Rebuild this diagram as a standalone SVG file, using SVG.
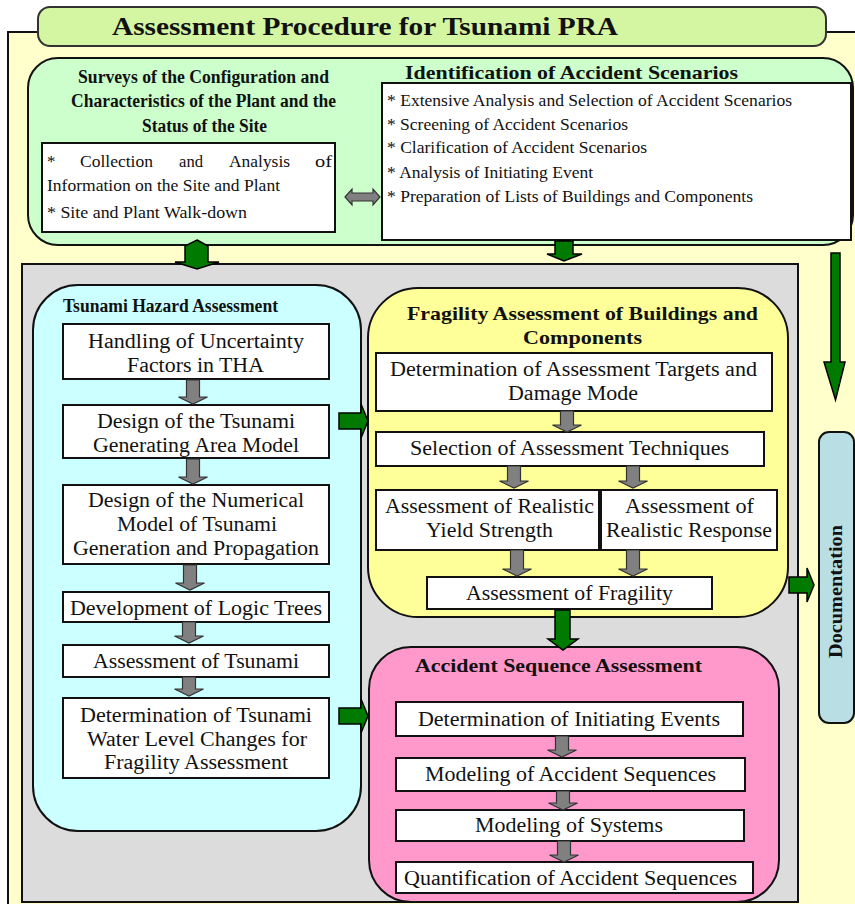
<svg xmlns="http://www.w3.org/2000/svg" width="855" height="904" viewBox="0 0 855 904">
<style>
text{font-family:"Liberation Serif","Times New Roman",serif;fill:#111;}
.t{font-size:26px;font-weight:bold;}
.h{font-size:18px;font-weight:bold;}
.h2{font-size:19px;font-weight:bold;}
.s{font-size:17px;}
.b{font-size:20px;}
.box{fill:#fff;stroke:#111;stroke-width:2;}
.ga{fill:#808080;stroke:#333;stroke-width:1.2;}
.gr{fill:#007a00;stroke:#000;stroke-width:1.5;}
</style>
<g id="background">
<rect x="8" y="32" width="900" height="900" fill="#ffffcc" stroke="#111" stroke-width="2"/>
</g>
<g id="title">
<rect x="38" y="7" width="788" height="39" rx="12" fill="#d4f5a2" stroke="#333" stroke-width="2"/>
<text class="t" x="112" y="35" textLength="506" lengthAdjust="spacingAndGlyphs">Assessment Procedure for Tsunami PRA</text>
</g>
<g id="top-panel">
<rect x="28" y="58" width="825" height="187" rx="30" fill="#ccffcc" stroke="#111" stroke-width="2"/>
</g>
<g id="surveys">
<text class="h" x="78" y="83" textLength="251" lengthAdjust="spacingAndGlyphs">Surveys of the Configuration and</text>
<text class="h" x="71" y="107" textLength="265" lengthAdjust="spacingAndGlyphs">Characteristics of the Plant and the</text>
<text class="h" x="142" y="132" textLength="125" lengthAdjust="spacingAndGlyphs">Status of the Site</text>
<rect class="box" x="42" y="143" width="293" height="89"/>
<text class="s" x="47" y="167">*</text>
<text class="s" x="80" y="167" textLength="73" lengthAdjust="spacingAndGlyphs">Collection</text>
<text class="s" x="179" y="167" textLength="24" lengthAdjust="spacingAndGlyphs">and</text>
<text class="s" x="229" y="167" textLength="61" lengthAdjust="spacingAndGlyphs">Analysis</text>
<text class="s" x="315" y="167" textLength="17" lengthAdjust="spacingAndGlyphs">of</text>
<text class="s" x="47" y="191" textLength="233" lengthAdjust="spacingAndGlyphs">Information on the Site and Plant</text>
<text class="s" x="47" y="218" textLength="200" lengthAdjust="spacingAndGlyphs">* Site and Plant Walk-down</text>
</g>
<g id="identification">
<text class="h2" x="405" y="79" textLength="333" lengthAdjust="spacingAndGlyphs">Identification of Accident Scenarios</text>
<rect class="box" x="382" y="83" width="469" height="157"/>
<text class="s" x="387" y="106" textLength="405" lengthAdjust="spacingAndGlyphs">* Extensive Analysis and Selection of Accident Scenarios</text>
<text class="s" x="387" y="130" textLength="241" lengthAdjust="spacingAndGlyphs">* Screening of Accident Scenarios</text>
<text class="s" x="387" y="153" textLength="260" lengthAdjust="spacingAndGlyphs">* Clarification of Accident Scenarios</text>
<text class="s" x="387" y="178" textLength="206" lengthAdjust="spacingAndGlyphs">* Analysis of Initiating Event</text>
<text class="s" x="387" y="202" textLength="366" lengthAdjust="spacingAndGlyphs">* Preparation of Lists of Buildings and Components</text>
</g>
<g id="main-panel">
<rect x="22" y="264" width="776" height="638" fill="#dcdcdc" stroke="#111" stroke-width="2"/>
</g>
<g id="tsunami-hazard">
<rect x="33" y="285" width="328" height="546" rx="45" fill="#ccffff" stroke="#111" stroke-width="2"/>
<text class="h" x="63" y="312" textLength="215" lengthAdjust="spacingAndGlyphs">Tsunami Hazard Assessment</text>
<rect class="box" x="63" y="324" width="266" height="55"/>
<text class="b" x="88" y="348" textLength="216" lengthAdjust="spacingAndGlyphs">Handling of Uncertainty</text>
<text class="b" x="127" y="372" textLength="137" lengthAdjust="spacingAndGlyphs">Factors in THA</text>
<rect class="box" x="63" y="405" width="266" height="53"/>
<text class="b" x="97" y="428" textLength="198" lengthAdjust="spacingAndGlyphs">Design of the Tsunami</text>
<text class="b" x="93" y="452" textLength="206" lengthAdjust="spacingAndGlyphs">Generating Area Model</text>
<rect class="box" x="63" y="485" width="266" height="79"/>
<text class="b" x="88" y="507" textLength="216" lengthAdjust="spacingAndGlyphs">Design of the Numerical</text>
<text class="b" x="117" y="531" textLength="160" lengthAdjust="spacingAndGlyphs">Model of Tsunami</text>
<text class="b" x="73" y="555" textLength="246" lengthAdjust="spacingAndGlyphs">Generation and Propagation</text>
<rect class="box" x="63" y="592" width="266" height="30"/>
<text class="b" x="70" y="615" textLength="252" lengthAdjust="spacingAndGlyphs">Development of Logic Trees</text>
<rect class="box" x="63" y="645" width="266" height="32"/>
<text class="b" x="93" y="668" textLength="206" lengthAdjust="spacingAndGlyphs">Assessment of Tsunami</text>
<rect class="box" x="63" y="698" width="266" height="80"/>
<text class="b" x="80" y="722" textLength="232" lengthAdjust="spacingAndGlyphs">Determination of Tsunami</text>
<text class="b" x="87" y="746" textLength="220" lengthAdjust="spacingAndGlyphs">Water Level Changes for</text>
<text class="b" x="104" y="769" textLength="184" lengthAdjust="spacingAndGlyphs">Fragility Assessment</text>
</g>
<g id="fragility">
<rect x="368" y="288" width="420" height="329" rx="50" fill="#ffff99" stroke="#111" stroke-width="2"/>
<text class="h2" x="407" y="320" textLength="351" lengthAdjust="spacingAndGlyphs">Fragility Assessment of Buildings and</text>
<text class="h2" x="523" y="344" textLength="119" lengthAdjust="spacingAndGlyphs">Components</text>
<rect class="box" x="376" y="353" width="396" height="58"/>
<text class="b" x="390" y="376" textLength="367" lengthAdjust="spacingAndGlyphs">Determination of Assessment Targets and</text>
<text class="b" x="508" y="400" textLength="130" lengthAdjust="spacingAndGlyphs">Damage Mode</text>
<rect class="box" x="376" y="432" width="388" height="34"/>
<text class="b" x="410" y="455" textLength="319" lengthAdjust="spacingAndGlyphs">Selection of Assessment Techniques</text>
<rect class="box" x="376" y="490" width="223" height="60"/>
<text class="b" x="385" y="513" textLength="209" lengthAdjust="spacingAndGlyphs">Assessment of Realistic</text>
<text class="b" x="426" y="537" textLength="127" lengthAdjust="spacingAndGlyphs">Yield Strength</text>
<rect class="box" x="601" y="490" width="176" height="60"/>
<text class="b" x="625" y="513" textLength="129" lengthAdjust="spacingAndGlyphs">Assessment of</text>
<text class="b" x="606" y="537" textLength="166" lengthAdjust="spacingAndGlyphs">Realistic Response</text>
<rect class="box" x="427" y="577" width="285" height="32"/>
<text class="b" x="466" y="600" textLength="207" lengthAdjust="spacingAndGlyphs">Assessment of Fragility</text>
</g>
<g id="accident-sequence">
<rect x="369" y="647" width="410" height="255" rx="42" fill="#ff99cc" stroke="#111" stroke-width="2"/>
<text class="h2" x="415" y="672" textLength="287" lengthAdjust="spacingAndGlyphs">Accident Sequence Assessment</text>
<rect class="box" x="396" y="702" width="347" height="34"/>
<text class="b" x="418" y="726" textLength="302" lengthAdjust="spacingAndGlyphs">Determination of Initiating Events</text>
<rect class="box" x="396" y="758" width="349" height="33"/>
<text class="b" x="425" y="781" textLength="291" lengthAdjust="spacingAndGlyphs">Modeling of Accident Sequences</text>
<rect class="box" x="396" y="810" width="348" height="31"/>
<text class="b" x="475" y="832" textLength="188" lengthAdjust="spacingAndGlyphs">Modeling of Systems</text>
<rect class="box" x="396" y="862" width="357" height="31"/>
<text class="b" x="404" y="885" textLength="333" lengthAdjust="spacingAndGlyphs">Quantification of Accident Sequences</text>
<line x1="22" y1="902" x2="798" y2="902" stroke="#111" stroke-width="2"/>
</g>
<g id="documentation">
<rect x="819" y="432" width="35" height="291" rx="10" fill="#b9dfe5" stroke="#111" stroke-width="2"/>
<text class="h" transform="translate(842,658) rotate(-90)" x="0" y="0" textLength="133" lengthAdjust="spacingAndGlyphs">Documentation</text>
</g>
<g id="connectors">
<path class="ga" d="M345,197 L352,189 V193 H373 V189 L380,197 L373,205 V201 H352 V205 Z"/>
<path class="gr" d="M197,240 L208,246 V262 H219 L197,269 L175,262 H185 V246 Z"/>
<path class="gr" d="M555,241 H573 V254 H582 L564,261 L547,254 H555 Z"/>
<path class="ga" d="M186.5,380 H199.5 V397 H207.5 L193,404 L178.5,397 H186.5 Z"/>
<path class="ga" d="M186.5,459 H199.5 V477 H207.5 L193,484 L178.5,477 H186.5 Z"/>
<path class="ga" d="M183.5,565 H196.5 V583 H204.5 L190,590 L175.5,583 H183.5 Z"/>
<path class="ga" d="M182.5,622 H195.5 V636 H203.5 L189,643 L174.5,636 H182.5 Z"/>
<path class="ga" d="M182.5,677 H195.5 V689 H203.5 L189,696 L174.5,689 H182.5 Z"/>
<path class="ga" d="M560.5,411 H573.5 V425 H581.5 L567,432 L552.5,425 H560.5 Z"/>
<path class="ga" d="M507.5,466 H520.5 V481 H528.5 L514,488 L499.5,481 H507.5 Z"/>
<path class="ga" d="M626.5,466 H639.5 V481 H647.5 L633,488 L618.5,481 H626.5 Z"/>
<path class="ga" d="M510.5,550 H523.5 V569 H531.5 L517,576 L502.5,569 H510.5 Z"/>
<path class="ga" d="M626.5,550 H639.5 V569 H647.5 L633,576 L618.5,569 H626.5 Z"/>
<path class="ga" d="M555.5,736 H568.5 V750 H576.5 L562,757 L547.5,750 H555.5 Z"/>
<path class="ga" d="M556.5,791 H569.5 V803 H577.5 L563,810 L548.5,803 H556.5 Z"/>
<path class="ga" d="M557.5,841 H570.5 V855 H578.5 L564,862 L549.5,855 H557.5 Z"/>
<path class="gr" d="M339,413 H361 V404 L368,421 L361,438 V429 H339 Z"/>
<path class="gr" d="M339,708 H361 V699 L368,716 L361,733 V724 H339 Z"/>
<path class="gr" d="M555,610 H570 V639 H578 L563,650 L548,639 H555 Z"/>
<path class="gr" d="M831,253 H840 V362 H845 L835.5,400 L824,362 H831 Z"/>
<path class="gr" d="M789,577 H807 V568 L814,585 L807,602 V593 H789 Z"/>
</g>
</svg>
